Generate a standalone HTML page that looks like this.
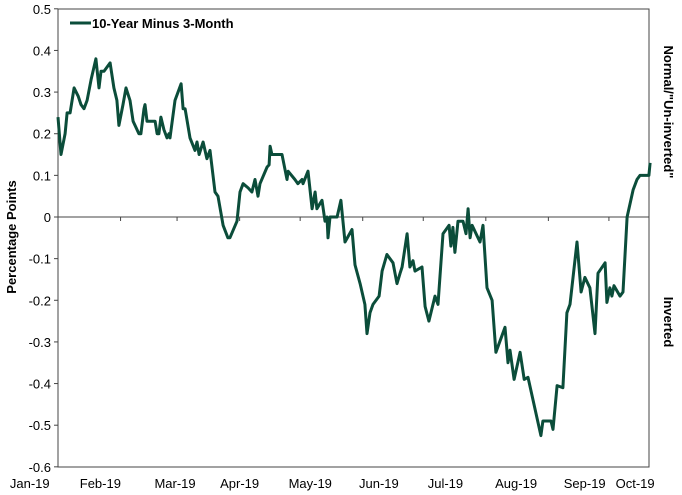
<!DOCTYPE html>
<html><head><meta charset="utf-8"><style>
html,body{margin:0;padding:0;background:#fff;}
svg{display:block;font-family:"Liberation Sans",Arial,sans-serif;}
</style></head><body>
<svg id="chart" width="682" height="495" viewBox="0 0 682 495">
<rect x="58" y="9" width="591" height="458" fill="none" stroke="#444" stroke-width="1"/>
<g id="yt"></g>
<g id="xt"></g>
<path id="line" fill="none" stroke="#0b4d3a" stroke-width="3" stroke-linejoin="round"/>
<g>
<line x1="70" y1="23" x2="91" y2="23" stroke="#0b4d3a" stroke-width="3"/>
<text x="92" y="28" font-size="13" font-weight="bold" fill="#000">10-Year Minus 3-Month</text>
</g>
<text transform="translate(16,237) rotate(-90)" text-anchor="middle" font-size="13" font-weight="bold">Percentage Points</text>
<text transform="translate(664,112) rotate(90)" text-anchor="middle" font-size="13" font-weight="bold">Normal/"Un-inverted"</text>
<text transform="translate(664,322) rotate(90)" text-anchor="middle" font-size="13" font-weight="bold">Inverted</text>
</svg>
<script>
const days=[0,1.5,3.5,4.5,6,8,10,11.4,12.9,14.4,16.4,18.8,20.3,21.3,22.8,25.8,27.7,29.2,30.2,32.2,33.7,35.7,37.2,40.1,41.1,42.6,43.1,44.1,48.1,49.1,50,51,52.5,54,55,55.5,58,61,62,63,65.4,67.9,68.9,69.9,71.9,73.8,75.3,77.8,79.3,81.8,84.2,85.2,88.7,90.2,91.7,94.2,96.1,97.6,99.1,100.1,103.6,104.6,105.1,106,111,113.5,114,117.4,118.9,120.9,121.4,123.9,125.9,127.4,128.3,130.8,132.3,133.3,133.8,134.8,138.3,140.2,142.2,145.7,147.2,149.7,152.1,153.1,154.6,156.1,159.1,160.6,163,166,168,169.5,170.5,173,174.4,175.9,176.9,180.4,181.9,183.8,186.8,188.3,190.8,193.8,194.7,195.7,196.7,198.2,200.7,202.2,203.2,204.2,205.2,209.1,210.6,212.6,215.1,217,221.5,223,224,226,229,231,232.9,239.3,240.3,244.3,245.3,247.3,250.2,252.2,253.7,257.2,259.2,261.1,263.6,266.1,267.6,271.1,272,273.5,274.5,275.5,278.5,280,282,285,286.9,288.4,289.9,291.4,292.8,293.4];
const spread=[0.24,0.15,0.2,0.25,0.25,0.31,0.29,0.27,0.26,0.28,0.33,0.38,0.31,0.35,0.35,0.37,0.31,0.28,0.22,0.27,0.31,0.28,0.23,0.2,0.2,0.26,0.27,0.23,0.23,0.2,0.2,0.24,0.21,0.19,0.2,0.19,0.28,0.32,0.26,0.26,0.19,0.16,0.18,0.15,0.18,0.14,0.16,0.06,0.05,-0.02,-0.05,-0.05,-0.01,0.06,0.08,0.07,0.06,0.09,0.05,0.08,0.12,0.125,0.17,0.15,0.15,0.09,0.11,0.09,0.08,0.09,0.08,0.11,0.02,0.06,0.02,0.04,-0.01,0,-0.05,0,0,0.04,-0.06,-0.03,-0.115,-0.16,-0.21,-0.28,-0.23,-0.21,-0.19,-0.13,-0.09,-0.11,-0.16,-0.135,-0.12,-0.04,-0.12,-0.105,-0.13,-0.12,-0.215,-0.25,-0.19,-0.21,-0.04,-0.02,-0.07,-0.025,-0.085,-0.01,-0.01,-0.04,0.02,-0.05,-0.02,-0.06,-0.02,-0.17,-0.2,-0.325,-0.265,-0.35,-0.32,-0.39,-0.325,-0.39,-0.385,-0.525,-0.49,-0.49,-0.51,-0.405,-0.41,-0.23,-0.21,-0.06,-0.18,-0.145,-0.17,-0.28,-0.135,-0.11,-0.205,-0.17,-0.19,-0.165,-0.19,-0.18,0,0.065,0.09,0.1,0.1,0.1,0.1,0.13];
const yTicks=[0.5,0.4,0.3,0.2,0.1,0,-0.1,-0.2,-0.3,-0.4,-0.5,-0.6];
const yTickLabels=["0.5","0.4","0.3","0.2","0.1","0","-0.1","-0.2","-0.3","-0.4","-0.5","-0.6"];
const monthStarts=[31,59,90,120,151,181,212,243,273];
const monthLabels=["Jan-19","Feb-19","Mar-19","Apr-19","May-19","Jun-19","Jul-19","Aug-19","Sep-19","Oct-19"];
const monthLabelDays=[-14,21,58,90,125,159,192,227,261,286];

const X0=58,PXD=2.018,Y0=217,PXV=416.4;
const xs=d=>X0+d*PXD, ys=v=>Y0-v*PXV;
const NS="http://www.w3.org/2000/svg";
const yt=document.getElementById('yt'), xt=document.getElementById('xt');
yTicks.forEach((v,i)=>{
  const l=document.createElementNS(NS,'line');
  l.setAttribute('x1',X0-4);l.setAttribute('x2',X0);l.setAttribute('y1',ys(v));l.setAttribute('y2',ys(v));l.setAttribute('stroke','#444');
  
  
  yt.appendChild(l);
  const t=document.createElementNS(NS,'text');
  t.setAttribute('x',X0-7);t.setAttribute('y',ys(v)+5);t.setAttribute('text-anchor','end');t.setAttribute('font-size','13');
  t.textContent=yTickLabels[i];
  
  
  yt.appendChild(t);
});
const zl=document.createElementNS(NS,'line');
zl.setAttribute('x1',X0);zl.setAttribute('x2',649);zl.setAttribute('y1',ys(0));zl.setAttribute('y2',ys(0));zl.setAttribute('stroke','#444');


xt.appendChild(zl);
monthStarts.forEach(d=>{
  const l=document.createElementNS(NS,'line');
  l.setAttribute('x1',xs(d));l.setAttribute('x2',xs(d));l.setAttribute('y1',ys(0));l.setAttribute('y2',ys(0)+4);l.setAttribute('stroke','#444');
  
  
  xt.appendChild(l);
});
monthLabels.forEach((m,i)=>{
  const t=document.createElementNS(NS,'text');
  t.setAttribute('x',xs(monthLabelDays[i]));t.setAttribute('y',488);t.setAttribute('text-anchor','middle');t.setAttribute('font-size','13');
  t.textContent=m;
  
  
  xt.appendChild(t);
});
document.getElementById('line').setAttribute('d',days.map((d,i)=>(i?'L':'M')+xs(d).toFixed(1)+','+ys(spread[i]).toFixed(1)).join(''));
</script>
</body></html>
